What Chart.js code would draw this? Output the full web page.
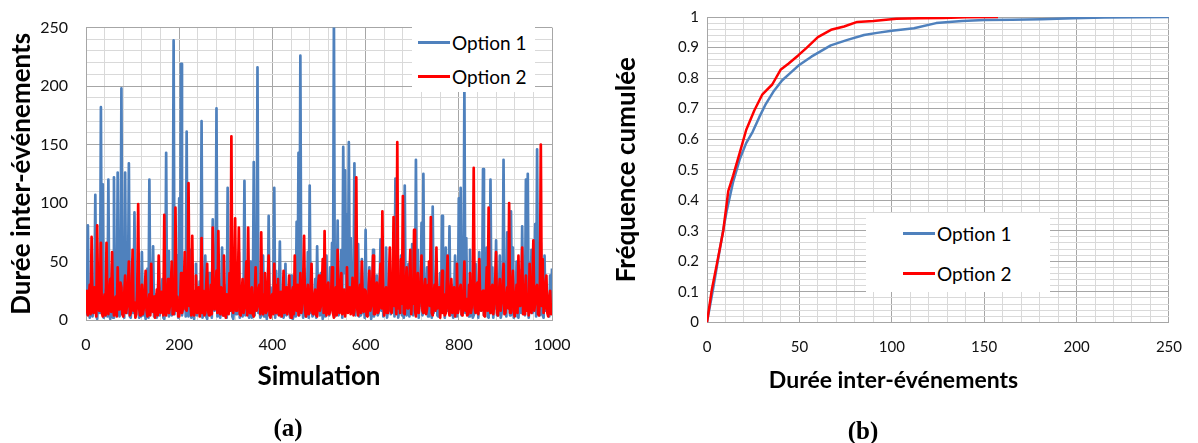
<!DOCTYPE html>
<html>
<head>
<meta charset="utf-8">
<script src="https://cdn.jsdelivr.net/npm/chart.js@4"></script>
<style>
body { margin: 0; background: #fff; width: 1198px; height: 443px; position: relative; overflow: hidden; font-family: Lato, sans-serif; }
canvas { position: absolute; top: 0; }
#chartA { left: 0; }
#chartB { left: 611px; }
.legend { position: absolute; background: #fff; font-size: 19px; color: #000; }
.legend .item { position: absolute; height: 22px; display: flex; align-items: center; white-space: nowrap; }
.legend .swatch { width: 32px; height: 3px; margin-right: 2px; }
.panel { position: absolute; font-family: "Liberation Serif", serif; font-weight: bold; font-size: 25px; transform: translate(-50%, -50%); }
</style>
</head>
<body>
<canvas id="chartA" width="590" height="443"></canvas>
<canvas id="chartB" width="587" height="443"></canvas>
<div class="legend" id="legA" style="left:412px; top:23px; width:123px; height:69px;"></div>
<div class="legend" id="legB" style="left:866px; top:213px; width:184px; height:79px;"></div>
<div class="panel" style="left:288px; top:428px;">(a)</div>
<div class="panel" style="left:863px; top:431px;">(b)</div>
<script>
// series names / colours
var seriesNames = ['Option 1', 'Option 2'];
var seriesColors = ['#4F81BD', '#FF0000'];

// (a) durée inter-événements, one value every 2 simulations (0 .. 1000)
var option1 = [
	22, 5, 81, 10, 2, 14, 38, 3, 12, 20, 107, 4, 1, 18, 45, 6, 182, 8, 116, 2,
	4, 16, 30, 3, 120, 6, 1, 12, 48, 2, 122, 10, 10, 4, 126, 8, 3, 15, 198, 5,
	35, 2, 126, 10, 6, 18, 134, 3, 2, 14, 52, 6, 92, 4, 14, 22, 40, 2, 3, 10,
	58, 4, 20, 8, 1, 16, 44, 2, 120, 6, 8, 20, 63, 3, 22, 10, 2, 12, 50, 4,
	12, 22, 35, 2, 1, 10, 143, 6, 59, 3, 16, 8, 4, 18, 239, 5, 25, 12, 55, 2,
	104, 8, 219, 4, 10, 22, 42, 3, 161, 8, 3, 14, 60, 2, 20, 10, 1, 18, 48, 4,
	14, 6, 33, 12, 170, 2, 5, 20, 55, 3, 1, 14, 40, 6, 18, 2, 86, 10, 8, 16,
	181, 3, 24, 10, 2, 18, 62, 4, 30, 12, 6, 2, 113, 8, 16, 22, 45, 3, 1, 14,
	38, 5, 10, 20, 58, 2, 22, 12, 3, 16, 119, 4, 26, 8, 8, 2, 50, 14, 2, 10,
	135, 4, 40, 16, 216, 6, 14, 2, 4, 20, 55, 3, 20, 10, 1, 12, 89, 4, 28, 6,
	10, 18, 113, 2, 42, 8, 5, 22, 67, 3, 16, 6, 2, 14, 48, 4, 25, 10, 8, 2,
	38, 12, 1, 6, 20, 3, 84, 10, 143, 4, 226, 8, 12, 2, 44, 16, 3, 10, 58, 2,
	115, 6, 18, 3, 5, 20, 35, 2, 63, 10, 10, 4, 40, 14, 1, 6, 24, 3, 55, 12,
	14, 4, 45, 20, 66, 6, 262, 3, 26, 12, 85, 4, 8, 18, 60, 2, 148, 40, 128, 22,
	90, 12, 152, 30, 70, 8, 36, 20, 134, 4, 20, 10, 65, 3, 4, 16, 52, 6, 26, 2,
	77, 10, 10, 4, 45, 18, 1, 8, 60, 3, 22, 12, 38, 4, 6, 20, 69, 8, 50, 3,
	18, 6, 62, 2, 2, 14, 42, 5, 26, 10, 68, 3, 121, 8, 30, 2, 8, 16, 55, 4,
	16, 2, 115, 10, 4, 18, 48, 3, 28, 8, 65, 4, 10, 14, 137, 6, 60, 2, 20, 12,
	83, 4, 125, 8, 6, 20, 45, 3, 26, 12, 58, 2, 97, 6, 14, 18, 52, 4, 3, 10,
	40, 6, 89, 14, 24, 2, 62, 8, 8, 16, 80, 4, 30, 10, 2, 20, 55, 3, 18, 6,
	104, 10, 113, 4, 36, 18, 200, 6, 70, 12, 10, 3, 60, 8, 26, 2, 4, 14, 48, 6,
	20, 2, 58, 12, 8, 20, 129, 4, 30, 10, 62, 3, 2, 16, 120, 6, 45, 2, 16, 10,
	68, 4, 26, 14, 55, 2, 6, 20, 137, 8, 36, 3, 75, 12, 14, 4, 93, 10, 62, 2,
	24, 8, 50, 3, 2, 16, 42, 6, 80, 12, 35, 4, 120, 10, 125, 2, 18, 14, 60, 6,
	8, 20, 82, 3, 146, 10, 36, 4, 66, 14, 4, 2, 55, 8, 26, 12, 10, 3, 38, 16,
	44
];
var option2 = [
	25, 8, 4, 20, 30, 5, 71, 12, 6, 28, 18, 3, 81, 15, 8, 30, 66, 6, 3, 16,
	22, 4, 66, 10, 5, 24, 35, 7, 58, 12, 4, 18, 20, 3, 45, 9, 9, 32, 28, 5,
	3, 22, 38, 6, 12, 30, 50, 4, 6, 20, 60, 8, 15, 2, 5, 26, 99, 10, 4, 18,
	30, 5, 10, 25, 42, 8, 3, 14, 22, 4, 48, 10, 7, 20, 2, 12, 26, 4, 55, 9,
	6, 24, 18, 4, 90, 12, 4, 22, 35, 6, 12, 28, 50, 5, 5, 18, 96, 8, 20, 3,
	3, 16, 40, 6, 10, 30, 58, 9, 8, 20, 117, 12, 15, 4, 72, 10, 4, 25, 38, 6,
	12, 28, 3, 10, 70, 6, 25, 4, 6, 30, 48, 8, 4, 20, 30, 5, 79, 14, 9, 26,
	42, 6, 76, 12, 5, 28, 25, 4, 55, 10, 2, 22, 18, 5, 40, 8, 157, 10, 6, 32,
	87, 8, 15, 30, 79, 5, 4, 22, 35, 6, 10, 28, 50, 4, 79, 12, 6, 24, 28, 5,
	3, 18, 45, 8, 12, 26, 30, 5, 75, 14, 5, 22, 40, 6, 8, 30, 55, 4, 2, 20,
	22, 5, 48, 12, 6, 30, 35, 4, 10, 24, 3, 16, 42, 6, 18, 28, 5, 20, 38, 7,
	2, 24, 28, 5, 55, 10, 8, 30, 4, 12, 40, 6, 14, 32, 72, 8, 3, 22, 30, 5,
	8, 26, 48, 6, 5, 20, 26, 4, 3, 30, 38, 8, 12, 24, 52, 6, 76, 10, 4, 28,
	32, 5, 8, 22, 45, 6, 2, 18, 28, 4, 60, 12, 6, 30, 40, 5, 15, 26, 3, 14,
	45, 6, 18, 28, 5, 12, 36, 4, 8, 30, 122, 10, 4, 22, 30, 6, 50, 12, 7, 26,
	25, 4, 3, 20, 42, 8, 12, 28, 55, 5, 5, 22, 32, 6, 8, 30, 48, 10, 93, 14,
	4, 24, 28, 6, 12, 34, 62, 8, 6, 20, 88, 12, 18, 5, 152, 10, 30, 6, 52, 14,
	106, 6, 5, 28, 45, 10, 10, 32, 60, 5, 25, 14, 77, 8, 3, 24, 40, 6, 15, 30,
	55, 8, 6, 26, 35, 5, 10, 30, 50, 12, 88, 6, 4, 22, 30, 8, 62, 10, 12, 28,
	2, 18, 42, 6, 22, 4, 6, 30, 55, 10, 4, 24, 35, 6, 15, 28, 3, 12, 48, 6,
	10, 26, 30, 5, 4, 22, 50, 8, 18, 4, 5, 30, 40, 6, 12, 24, 130, 10, 6, 28,
	32, 5, 52, 12, 8, 24, 25, 4, 3, 18, 45, 8, 96, 12, 6, 26, 30, 5, 14, 32,
	58, 6, 4, 22, 35, 8, 15, 28, 48, 5, 6, 20, 28, 10, 100, 6, 10, 30, 42, 8,
	3, 20, 30, 6, 55, 12, 12, 28, 62, 5, 5, 24, 38, 8, 22, 4, 48, 10, 6, 30,
	68, 8, 15, 28, 30, 5, 4, 22, 150, 12, 52, 6, 10, 30, 38, 6, 3, 18, 25, 5,
	12
];
var simulation = option1.map(function(v, i) { return i * 2; });

// (b) fréquence cumulée
var duree1 = [0, 3.5, 7.1, 10.6, 14.1, 17.7, 21.2, 24.7, 28.3, 31.8, 36.2, 40.6, 45, 49.5, 56.5, 67, 76, 85, 92, 100, 112, 124, 138, 150, 165, 181, 198, 215, 250];
var freq1 = [0, 0.117, 0.245, 0.363, 0.459, 0.534, 0.587, 0.624, 0.672, 0.715, 0.758, 0.792, 0.816, 0.841, 0.870, 0.907, 0.925, 0.941, 0.948, 0.955, 0.963, 0.98, 0.987, 0.990, 0.991, 0.993, 0.996, 0.998, 1.0];
var duree2 = [0, 2.6, 5.3, 8.8, 11.5, 14.1, 17.7, 21.2, 25.6, 30, 35.3, 39.8, 44.2, 49.5, 53.9, 60, 67.1, 74.2, 81.3, 90, 102.5, 115, 128, 140, 157.5];
var freq2 = [0, 0.107, 0.19, 0.30, 0.43, 0.48, 0.555, 0.63, 0.694, 0.747, 0.779, 0.827, 0.848, 0.875, 0.899, 0.934, 0.958, 0.969, 0.984, 0.987, 0.994, 0.996, 0.997, 0.999, 1.0];

function toPoints(xs, ys) {
	return ys.map(function(y, i) { return { x: xs[i], y: y }; });
}
function isMajor(v, major) {
	var r = v / major;
	return Math.abs(r - Math.round(r)) < 1e-6;
}
function gridColor(major) {
	return function(ctx) {
		return ctx.tick && isMajor(ctx.tick.value, major) ? '#a6a6a6' : '#d9d9d9';
	};
}
function majorLabel(major) {
	return function(value) {
		return isMajor(value, major) ? String(Number(value.toFixed(2))) : '';
	};
}

function axis(min, max, step, major, pad, size, extra) {
	var a = {
		type: 'linear', min: min, max: max,
		border: { color: '#a6a6a6' },
		grid: { color: gridColor(major), drawTicks: false },
		ticks: { stepSize: step, maxTicksLimit: 200, autoSkip: false, maxRotation: 0, padding: pad,
			color: '#111', font: { family: 'Lato', size: size }, callback: majorLabel(major) }
	};
	return Object.assign(a, extra);
}
function titleFont(size) {
	return { family: 'Lato', size: size, weight: 'bold' };
}

function line(label, color, data, order, width) {
	return { label: label, data: data, borderColor: color, backgroundColor: color,
		borderWidth: width, borderJoinStyle: 'round', pointRadius: 0, tension: 0, order: order };
}

Chart.defaults.animation = false;

new Chart(document.getElementById('chartA'), {
	type: 'line',
	data: {
		datasets: [
			line(seriesNames[0], seriesColors[0], toPoints(simulation, option1), 2, 2.7),
			line(seriesNames[1], seriesColors[1], toPoints(simulation, option2), 1, 2.7)
		]
	},
	options: {
		responsive: false,
		layout: { padding: { top: 15, right: 38, bottom: 0, left: 0 } },
		plugins: { legend: { display: false }, tooltip: { enabled: false } },
		scales: {
			x: axis(0, 1000, 40, 200, 15, 16, {
				title: { display: true, text: 'Simulation', color: '#000', font: titleFont(26), padding: { top: 0, bottom: 51 } },
				afterFit: function(s) { s.height = 123; }
			}),
			y: axis(0, 250, 10, 50, 18, 16, {
				title: { display: true, text: 'Durée inter-événements', color: '#000', font: titleFont(26), padding: { top: 6, bottom: 0 } },
				afterFit: function(s) { s.width = 86; }
			})
		}
	}
});

new Chart(document.getElementById('chartB'), {
	type: 'line',
	data: {
		datasets: [
			line(seriesNames[0], seriesColors[0], toPoints(duree1, freq1), 2, 2.5),
			line(seriesNames[1], seriesColors[1], toPoints(duree2, freq2), 1, 2.5)
		]
	},
	options: {
		responsive: false,
		layout: { padding: { top: 10, right: 22, bottom: 49, left: 0 } },
		plugins: {
			legend: { display: false }, tooltip: { enabled: false },
			title: { display: true, position: 'bottom', text: 'Durée inter-événements', color: '#000', font: titleFont(23), padding: { top: 0, bottom: 0 } }
		},
		scales: {
			x: axis(0, 250, 10, 50, 16, 15, {
				afterFit: function(s) { s.height = 44; }
			}),
			y: axis(0, 1, 0.02, 0.1, 8, 15, {
				title: { display: true, text: 'Fréquence cumulée', color: '#000', font: titleFont(26), padding: { top: 0, bottom: 0 } },
				afterFit: function(s) { s.width = 96; }
			})
		}
	}
});

// legends drawn over the plot, like the original
function buildLegend(id, swatchLeft, tops) {
	var box = document.getElementById(id);
	seriesNames.forEach(function(name, i) {
		var item = document.createElement('div');
		item.className = 'item';
		item.style.left = swatchLeft + 'px';
		item.style.top = (tops[i] - 11) + 'px';
		item.innerHTML = '<span class="swatch" style="background:' + seriesColors[i] + '"></span><span>' + name + '</span>';
		box.appendChild(item);
	});
}
buildLegend('legA', 6, [19, 53]);
buildLegend('legB', 37, [20, 60]);
</script>
</body>
</html>
